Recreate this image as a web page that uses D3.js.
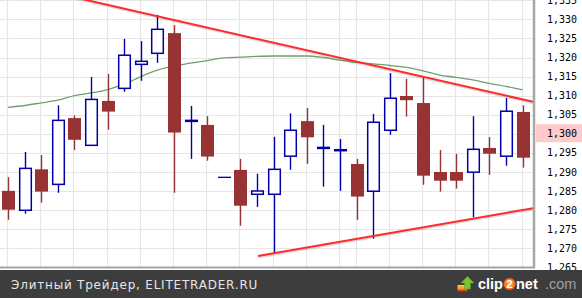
<!DOCTYPE html>
<html>
<head>
<meta charset="utf-8">
<script src="https://cdn.jsdelivr.net/npm/d3@7"></script>
<style>
  body { margin: 0; background: #fff; overflow: hidden; }
  svg { display: block; }
</style>
</head>
<body>
<script>
"use strict";

// daily candles, oldest first
let opens  = [1285.0, 1279.9, 1290.65, 1286.7, 1304.1, 1296.95, 1308.6, 1311.9, 1318.2, 1321.1,
              1326.4, 1303.3, 1302.3, 1288.55, 1290.5, 1284.1, 1284.1, 1294.1, 1303.3, 1296.2,
              1295.6, 1292.05, 1284.9, 1300.9, 1309.9, 1308.05, 1289.95, 1289.95, 1289.9, 1296.25,
              1294.1, 1305.7];
let highs  = [1288.6, 1295.2, 1294.4, 1307.45, 1304.8, 1314.9, 1315.7, 1324.9, 1324.3, 1331.2,
              1328.5, 1307.3, 1304.6, 1288.55, 1293.4, 1289.5, 1299.2, 1305.35, 1306.75, 1302.3,
              1298.6, 1293.4, 1305.2, 1315.9, 1314.4, 1314.96, 1295.7, 1294.7, 1304.6, 1299.1,
              1309.4, 1307.45];
let lows   = [1277.4, 1279.0, 1281.9, 1284.5, 1295.7, 1296.95, 1301.05, 1311.0, 1313.9, 1318.6,
              1284.5, 1293.4, 1292.9, 1288.55, 1275.85, 1280.8, 1268.6, 1290.55, 1292.1, 1286.1,
              1285.0, 1277.4, 1272.45, 1299.7, 1304.5, 1286.6, 1284.8, 1285.6, 1278.06, 1289.2,
              1291.6, 1291.1];
let closes = [1280.05, 1290.9, 1284.8, 1303.5, 1298.4, 1309.0, 1305.8, 1320.6, 1319.0, 1327.4,
              1300.3, 1303.5, 1294.0, 1288.55, 1281.1, 1284.96, 1290.65, 1300.9, 1299.05, 1296.4,
              1295.8, 1283.5, 1303.0, 1309.3, 1308.8, 1288.98, 1287.66, 1287.66, 1295.9, 1294.75,
              1305.9, 1293.7];

// moving average drawn in green
let maValues = [1306.9, 1307.4, 1308.1, 1308.8, 1310.0, 1310.7, 1311.6, 1313.0, 1315.0, 1316.7,
                1317.8, 1318.5, 1319.2, 1319.9, 1320.1, 1320.3, 1320.4, 1320.4, 1320.4, 1320.0,
                1319.3, 1318.7, 1318.3, 1317.9, 1317.4, 1316.5, 1315.4, 1314.8, 1314.1, 1313.2,
                1312.4, 1311.5];

let yTicks = [1265, 1270, 1275, 1280, 1285, 1290, 1295, 1300, 1305, 1310, 1315, 1320, 1325, 1330, 1335];
let gridIdx = [0, 2, 4, 6, 8, 10, 12, 14, 16, 18, 20, 21, 23, 25, 27, 29, 31];

// trend lines as [candle index, price]
let upperTrend = [[4, 1335.8], [31.9, 1308.1]];
let lowerTrend = [[15.06, 1267.9], [31.9, 1280.66]];

let markPrice = 1300;
let footerText = "Элитный Трейдер, ELITETRADER.RU";

let W = 582, H = 298;
let plotRight = 533, plotBottom = 268;

let svg = d3.select("body").append("svg")
    .attr("width", W)
    .attr("height", H);

let x = d3.scaleLinear().domain([0, 31]).range([8, 522.6]);
let y = d3.scaleLinear().domain([1265, 1330]).range([267.05, 19.4]);

svg.append("rect").attr("width", W).attr("height", H).attr("fill", "#fff");

svg.append("defs").append("clipPath").attr("id", "plot")
   .append("rect").attr("width", plotRight).attr("height", plotBottom);

let plot = svg.append("g").attr("clip-path", "url(#plot)");

// grid
plot.append("g")
    .selectAll("line").data(yTicks).join("line")
    .attr("x1", 0).attr("x2", plotRight)
    .attr("y1", d => Math.round(y(d)) + 0.5).attr("y2", d => Math.round(y(d)) + 0.5)
    .attr("stroke", "#e6e6e6").attr("stroke-width", 1.2);

plot.append("g")
    .selectAll("line").data(gridIdx).join("line")
    .attr("x1", d => Math.round(x(d)) - 0.5).attr("x2", d => Math.round(x(d)) - 0.5)
    .attr("y1", 0).attr("y2", plotBottom)
    .attr("stroke", "#e6e6e6").attr("stroke-width", 1.2);

// moving average
let maLine = d3.line()
    .x((d, i) => x(i))
    .y(d => y(d))
    .curve(d3.curveMonotoneX);

plot.append("path")
    .datum(maValues)
    .attr("fill", "none")
    .attr("stroke", "#6f9f6f")
    .attr("stroke-width", 1.3)
    .attr("d", maLine);

// candles
let candles = d3.range(opens.length).map(i => ({
    i: i, o: opens[i], h: highs[i], l: lows[i], c: closes[i], up: closes[i] >= opens[i]
}));

let red = "#973333", blue = "#0000a6";
let g = plot.append("g");

candles.forEach(d =>
{
    let cx = Math.round(x(d.i)) + 0.5;
    let top = y(Math.max(d.o, d.c));
    let bot = y(Math.min(d.o, d.c));

    if (d.h == d.l)
    {
        g.append("line")
         .attr("x1", cx - 6.5).attr("x2", cx + 6.5)
         .attr("y1", top).attr("y2", top)
         .attr("stroke", blue).attr("stroke-width", 1.3);
        return;
    }

    if (d.up)
    {
        g.append("line")
         .attr("x1", cx).attr("x2", cx).attr("y1", y(d.h)).attr("y2", top)
         .attr("stroke", blue).attr("stroke-width", 1.4);
        g.append("line")
         .attr("x1", cx).attr("x2", cx).attr("y1", bot).attr("y2", y(d.l))
         .attr("stroke", blue).attr("stroke-width", 1.4);
        g.append("rect")
         .attr("x", cx - 5.8).attr("y", top)
         .attr("width", 11.6).attr("height", Math.max(1, bot - top))
         .attr("fill", "#fff").attr("stroke", blue).attr("stroke-width", 1.5);
    }
    else
    {
        g.append("line")
         .attr("x1", cx).attr("x2", cx).attr("y1", y(d.h)).attr("y2", y(d.l))
         .attr("stroke", red).attr("stroke-width", 1.4);
        g.append("rect")
         .attr("x", cx - 6.5).attr("y", top)
         .attr("width", 13).attr("height", Math.max(2, bot - top))
         .attr("fill", red);
    }
});

// trend lines with a faint shadow
let tl = d3.line().x(d => x(d[0])).y(d => y(d[1]));
[upperTrend, lowerTrend].forEach(t =>
{
    plot.append("path").datum(t)
        .attr("d", tl).attr("transform", "translate(0.5,1.5)")
        .attr("fill", "none").attr("stroke", "rgba(0,0,0,0.13)").attr("stroke-width", 2);
    plot.append("path").datum(t)
        .attr("d", tl)
        .attr("fill", "none").attr("stroke", "#ff2a2a").attr("stroke-width", 2);
});

// borders
svg.append("line")
   .attr("x1", 0).attr("x2", plotRight + 2).attr("y1", plotBottom - 0.5).attr("y2", plotBottom - 0.5)
   .attr("stroke", "#a3a3a3").attr("stroke-width", 2);
svg.append("line")
   .attr("x1", plotRight + 1).attr("x2", plotRight + 1).attr("y1", 0).attr("y2", plotBottom)
   .attr("stroke", "#a8a8a8").attr("stroke-width", 2.5);

// price axis on the right
svg.append("rect")
   .attr("x", plotRight + 2.5).attr("y", y(markPrice) - 9.5)
   .attr("width", W - plotRight).attr("height", 18)
   .attr("fill", "#ffcaca");

let fmt = d3.format(",");
let axis = d3.axisRight(y).tickValues(yTicks).tickSize(0).tickPadding(0).tickFormat(d => fmt(d));
let ax = svg.append("g").attr("transform", "translate(577,0)").call(axis);
ax.select(".domain").remove();
ax.selectAll("text")
  .attr("text-anchor", "end")
  .attr("font-family", "DejaVu Sans Mono, monospace")
  .attr("font-size", 10)
  .attr("fill", "#000");

// footer bar
svg.append("rect").attr("x", 0).attr("y", 270).attr("width", W).attr("height", H - 270).attr("fill", "#3d3d3d");

let ft = svg.append("text")
    .attr("x", 11).attr("y", 288.5)
    .attr("font-family", "DejaVu Sans, sans-serif")
    .attr("font-size", 12)
    .attr("fill", "#e6e6e6")
    .text(footerText);
let len = ft.node().getComputedTextLength();
ft.attr("letter-spacing", ((247 - len) / footerText.length).toFixed(2));

// clip2net logo
let logo = svg.append("g");
let defs = svg.select("defs");
let og = defs.append("linearGradient").attr("id", "og").attr("x1", 0).attr("y1", 0).attr("x2", 0).attr("y2", 1);
og.append("stop").attr("offset", 0).attr("stop-color", "#ffd23c");
og.append("stop").attr("offset", 1).attr("stop-color", "#f07a1a");
let rg = defs.append("radialGradient").attr("id", "rg");
rg.append("stop").attr("offset", 0).attr("stop-color", "#ffb92e");
rg.append("stop").attr("offset", 1).attr("stop-color", "#f0601c");

logo.append("rect").attr("x", 457.5).attr("y", 285).attr("width", 10).attr("height", 5).attr("fill", "url(#og)");
logo.append("rect").attr("x", 457.5).attr("y", 290).attr("width", 10).attr("height", 1.6).attr("fill", "#e0301a");
logo.append("path")
    .attr("d", "M467.5,276.3 L474,283 L470.5,283 L470.5,289 L464.5,289 L464.5,283 L461,283 Z")
    .attr("fill", "#7cc232").attr("stroke", "#5a9a22").attr("stroke-width", 0.5);

let lf = "Liberation Sans, Arial, sans-serif";
logo.append("text").attr("x", 478).attr("y", 289).attr("font-family", lf)
    .attr("font-weight", "bold").attr("font-size", 14.5).attr("fill", "#fff").text("clip");
logo.append("circle").attr("cx", 509.5).attr("cy", 284).attr("r", 6).attr("fill", "url(#rg)");
logo.append("text").attr("x", 509.5).attr("y", 288).attr("text-anchor", "middle").attr("font-family", lf)
    .attr("font-weight", "bold").attr("font-size", 11.5).attr("fill", "#fff").text("2");
logo.append("text").attr("x", 516).attr("y", 289).attr("font-family", lf)
    .attr("font-weight", "bold").attr("font-size", 14.5).attr("fill", "#fff").text("net");
logo.append("text").attr("x", 545).attr("y", 289).attr("font-family", lf)
    .attr("font-size", 14.5).attr("fill", "#a0a0a0").text(".com");
</script>
</body>
</html>
